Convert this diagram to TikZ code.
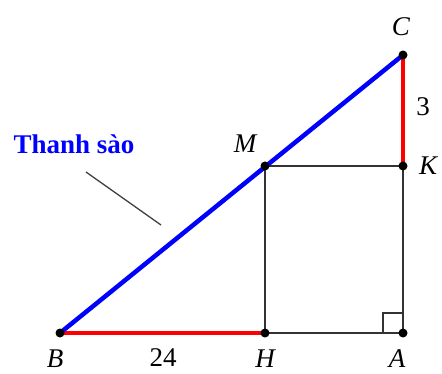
\documentclass[tikz,border=0pt]{standalone}
\usepackage{fontspec}
\setmainfont{Liberation Serif}
\begin{document}
\begin{tikzpicture}[x=1pt,y=-1pt,
  lbl/.style={font=\fontsize{27}{29}\selectfont\itshape, inner sep=0pt},
  num/.style={font=\fontsize{27}{29}\selectfont, inner sep=0pt},
  thin/.style={draw=black!80, line width=1.3pt},
  dot/.style={circle, fill=black, inner sep=0pt, minimum size=9pt}]
\useasboundingbox (0,0) rectangle (442,374);
\coordinate (B) at (60,333);
\coordinate (H) at (265,333);
\coordinate (A) at (403,333);
\coordinate (K) at (403,166);
\coordinate (M) at (265,166);
\coordinate (C) at (403,55);
% thin lines
\draw[thin] (H) -- (A) -- (K) -- (M) -- (H);
\draw[thin] (383,333) -- (383,313) -- (403,313);
% red segments
\draw[red, line width=4.5pt] (B) -- (H);
\draw[red, line width=4.5pt] (K) -- (C);
% blue bar
\draw[blue, line width=4.5pt, line cap=round] (B) -- (C);
% dots
\foreach \p in {B,H,A,K,M,C} \node[dot] at (\p) {};
% labels
\node[lbl] (lC) at (401,27) {C};
\node[num] (l3) at (423,107) {3};
\node[lbl] (lK) at (428,166) {K};
\node[lbl] (lM) at (245,144) {M};
\node[lbl] (lB) at (55,359) {B};
\node[num] (l24) at (163,358) {24};
\node[lbl] (lH) at (265,359) {H};
\node[lbl] (lA) at (397,359) {A};
\node[font=\fontsize{27}{29}\selectfont\bfseries, text=blue, inner sep=0pt] (ts) at (74,144) {Thanh sào};
\coordinate (p1) at (86,172);
\coordinate (p2) at (161,225);
\draw[draw=black!75, line width=1.3pt] (p1) -- (p2);
\end{tikzpicture}
\end{document}
